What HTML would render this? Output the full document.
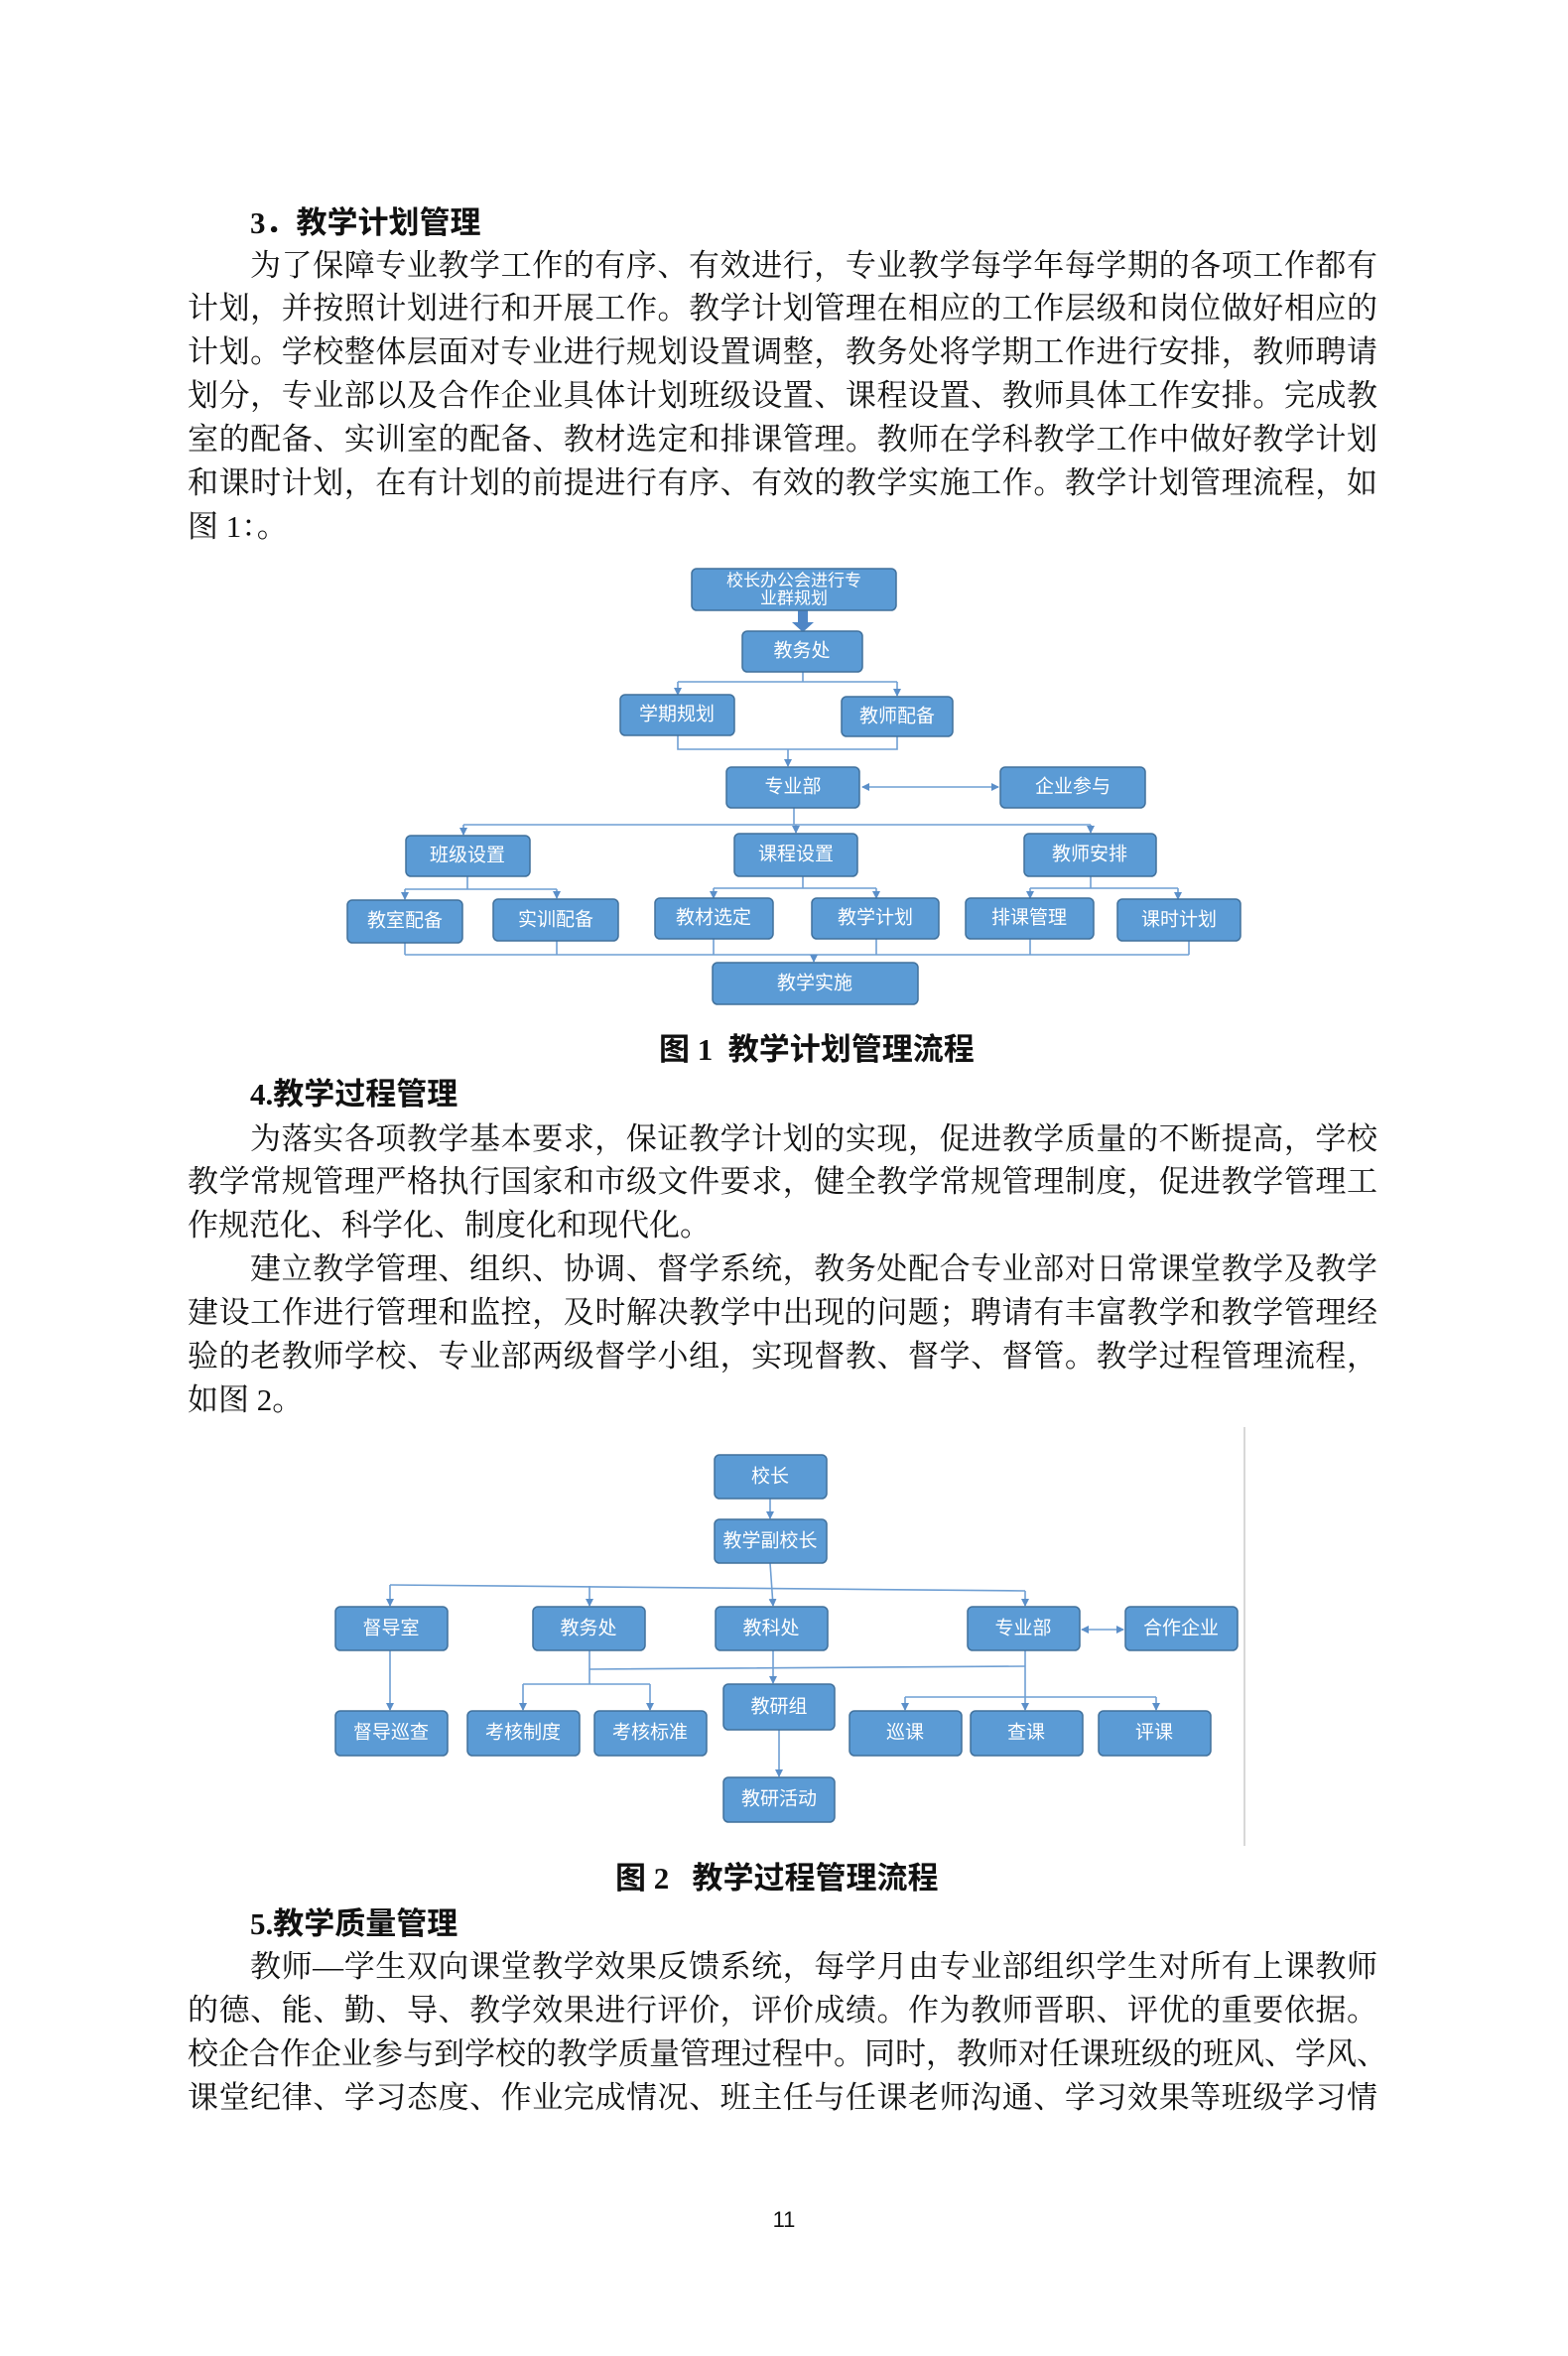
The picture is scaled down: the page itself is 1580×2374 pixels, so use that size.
<!DOCTYPE html>
<html><head><meta charset="utf-8">
<style>
html,body{margin:0;padding:0;background:#fff;}
#pg{position:relative;width:1580px;height:2374px;overflow:hidden;background:#fff;}
.l{position:absolute;height:44px;line-height:44px;font-size:31px;font-family:"Liberation Serif","Noto Serif CJK SC",serif;color:#111;text-align:justify;text-align-last:justify;white-space:nowrap;}
.f{left:189px;width:1199px;}
.i{left:252px;width:1136px;}
.s{text-align-last:left;}
.h{position:absolute;left:252px;height:44px;line-height:44px;font-size:31px;font-weight:bold;font-family:"Liberation Serif","Noto Sans CJK SC",sans-serif;color:#111;}
.c{position:absolute;height:44px;line-height:44px;font-size:31px;font-weight:bold;font-family:"Liberation Serif","Noto Sans CJK SC",sans-serif;color:#111;}
svg{position:absolute;left:0;top:0;}
svg text{font-family:"Liberation Sans","Noto Sans CJK SC",sans-serif;fill:#fff;font-size:19px;text-anchor:middle;dominant-baseline:central;}
</style></head><body><div id="pg">

<div class="h" style="top:203px">3．教学计划管理</div>
<div class="l i" style="top:246px">为了保障专业教学工作的有序、有效进行，专业教学每学年每学期的各项工作都有</div>
<div class="l f" style="top:289px">计划，并按照计划进行和开展工作。教学计划管理在相应的工作层级和岗位做好相应的</div>
<div class="l f" style="top:333px">计划。学校整体层面对专业进行规划设置调整，教务处将学期工作进行安排，教师聘请</div>
<div class="l f" style="top:377px">划分，专业部以及合作企业具体计划班级设置、课程设置、教师具体工作安排。完成教</div>
<div class="l f" style="top:421px">室的配备、实训室的配备、教材选定和排课管理。教师在学科教学工作中做好教学计划</div>
<div class="l f" style="top:465px">和课时计划，在有计划的前提进行有序、有效的教学实施工作。教学计划管理流程，如</div>
<div class="l f s" style="top:509px">图 1：。</div>

<div class="c" style="top:1036px;left:664px">图 1&nbsp; 教学计划管理流程</div>

<div class="h" style="top:1081px">4.教学过程管理</div>
<div class="l i" style="top:1126px">为落实各项教学基本要求，保证教学计划的实现，促进教学质量的不断提高，学校</div>
<div class="l f" style="top:1169px">教学常规管理严格执行国家和市级文件要求，健全教学常规管理制度，促进教学管理工</div>
<div class="l f s" style="top:1213px">作规范化、科学化、制度化和现代化。</div>
<div class="l i" style="top:1257px">建立教学管理、组织、协调、督学系统，教务处配合专业部对日常课堂教学及教学</div>
<div class="l f" style="top:1301px">建设工作进行管理和监控，及时解决教学中出现的问题；聘请有丰富教学和教学管理经</div>
<div class="l f" style="top:1345px">验的老教师学校、专业部两级督学小组，实现督教、督学、督管。教学过程管理流程，</div>
<div class="l f s" style="top:1389px">如图 2。</div>

<div class="c" style="top:1871px;left:620px">图 2&nbsp;&nbsp; 教学过程管理流程</div>

<div class="h" style="top:1917px">5.教学质量管理</div>
<div class="l i" style="top:1960px">教师—学生双向课堂教学效果反馈系统，每学月由专业部组织学生对所有上课教师</div>
<div class="l f" style="top:2004px">的德、能、勤、导、教学效果进行评价，评价成绩。作为教师晋职、评优的重要依据。</div>
<div class="l f" style="top:2048px">校企合作企业参与到学校的教学质量管理过程中。同时，教师对任课班级的班风、学风、</div>
<div class="l f" style="top:2092px">课堂纪律、学习态度、作业完成情况、班主任与任课老师沟通、学习效果等班级学习情</div>

<div style="position:absolute;top:2224px;left:0;width:1580px;text-align:center;font-size:22px;font-family:'Liberation Sans',sans-serif;color:#111">11</div>

<svg width="1580" height="2374" viewBox="0 0 1580 2374">
<defs>
<marker id="a" markerWidth="8" markerHeight="8" refX="7" refY="4" orient="auto" markerUnits="userSpaceOnUse"><path d="M0,0 L8,4 L0,8 z" fill="#5b8fc9"/></marker>
<marker id="b" markerWidth="8" markerHeight="8" refX="1" refY="4" orient="auto" markerUnits="userSpaceOnUse"><path d="M8,0 L0,4 L8,8 z" fill="#5b8fc9"/></marker>
</defs>
<g fill="none" stroke="#6f9fd3" stroke-width="1.6">
<path d="M809,677 V687 M683,687 H904" />
<path d="M683,687 V700" marker-end="url(#a)"/><path d="M904,687 V701" marker-end="url(#a)"/>
<path d="M683,741 V755 H904 V742" />
<path d="M794,755 V772" marker-end="url(#a)"/>
<path d="M869,793 H1006" marker-start="url(#b)" marker-end="url(#a)"/>
<path d="M800,814 V831 M467,831 H1099"/>
<path d="M467,831 V841" marker-end="url(#a)"/><path d="M802,831 V839" marker-end="url(#a)"/><path d="M1099,831 V839" marker-end="url(#a)"/>
<path d="M471,883 V896 M408,896 H561"/>
<path d="M408,896 V906" marker-end="url(#a)"/><path d="M561,896 V905" marker-end="url(#a)"/>
<path d="M809,883 V895 M719,895 H883"/>
<path d="M719,895 V905" marker-end="url(#a)"/><path d="M883,895 V905" marker-end="url(#a)"/>
<path d="M1099,883 V895 M1038,895 H1187"/>
<path d="M1038,895 V905" marker-end="url(#a)"/><path d="M1187,895 V906" marker-end="url(#a)"/>
<path d="M408,950 V962 M561,948 V962 M719,946 V962 M883,946 V962 M1038,946 V962 M1198,948 V962 M408,962 H1198"/>
<path d="M820,962 V969" marker-end="url(#a)"/>
<path d="M776,1510 V1530" marker-end="url(#a)"/>
<path d="M393,1597 L1033,1603"/>
<path d="M393,1597 V1618" marker-end="url(#a)"/>
<path d="M594,1598 V1618" marker-end="url(#a)"/>
<path d="M776,1575 L779,1618" marker-end="url(#a)"/>
<path d="M1033,1603 V1618" marker-end="url(#a)"/>
<path d="M1090,1642 H1132" marker-start="url(#b)" marker-end="url(#a)"/>
<path d="M393,1663 V1723" marker-end="url(#a)"/>
<path d="M594,1663 V1697 M594,1682 L1033,1679 M527,1697 H655"/>
<path d="M527,1697 V1723" marker-end="url(#a)"/><path d="M655,1697 V1723" marker-end="url(#a)"/>
<path d="M779,1663 V1696" marker-end="url(#a)"/>
<path d="M1033,1663 V1723" marker-end="url(#a)"/>
<path d="M912,1710 H1165"/>
<path d="M912,1710 V1723" marker-end="url(#a)"/><path d="M1165,1710 V1723" marker-end="url(#a)"/>
<path d="M785,1743 V1790" marker-end="url(#a)"/>
</g>
<path d="M804,615 V627 H798 L809,637 L820,627 H814 V615 z" fill="#4f86c6"/>
<line x1="1254" y1="1438" x2="1254" y2="1860" stroke="#ccc" stroke-width="1.5"/>

<g fill="#5b9bd5" stroke="#41719c" stroke-width="1.5">
<rect x="697" y="573" width="206" height="42" rx="5"/>
<rect x="748" y="636" width="121" height="41" rx="5"/>
<rect x="625" y="700" width="115" height="41" rx="5"/>
<rect x="848" y="702" width="112" height="40" rx="5"/>
<rect x="732" y="773" width="134" height="41" rx="5"/>
<rect x="1008" y="773" width="146" height="41" rx="5"/>
<rect x="409" y="842" width="125" height="41" rx="5"/>
<rect x="740" y="840" width="124" height="43" rx="5"/>
<rect x="1032" y="840" width="133" height="43" rx="5"/>
<rect x="350" y="907" width="116" height="43" rx="5"/>
<rect x="497" y="906" width="126" height="42" rx="5"/>
<rect x="660" y="905" width="119" height="41" rx="5"/>
<rect x="818" y="905" width="128" height="41" rx="5"/>
<rect x="973" y="905" width="129" height="41" rx="5"/>
<rect x="1126" y="906" width="124" height="42" rx="5"/>
<rect x="718" y="970" width="207" height="42" rx="5"/>
<rect x="720" y="1466" width="113" height="44" rx="5"/>
<rect x="720" y="1531" width="113" height="44" rx="5"/>
<rect x="338" y="1619" width="113" height="44" rx="5"/>
<rect x="537" y="1619" width="113" height="44" rx="5"/>
<rect x="721" y="1619" width="113" height="44" rx="5"/>
<rect x="975" y="1619" width="113" height="44" rx="5"/>
<rect x="1134" y="1619" width="113" height="44" rx="5"/>
<rect x="338" y="1724" width="113" height="45" rx="5"/>
<rect x="471" y="1724" width="113" height="45" rx="5"/>
<rect x="599" y="1724" width="113" height="45" rx="5"/>
<rect x="729" y="1697" width="112" height="46" rx="5"/>
<rect x="856" y="1724" width="113" height="45" rx="5"/>
<rect x="978" y="1724" width="113" height="45" rx="5"/>
<rect x="1107" y="1724" width="113" height="45" rx="5"/>
<rect x="729" y="1791" width="112" height="45" rx="5"/>
</g>
<g>
<text x="800" y="585" style="font-size:17px">校长办公会进行专</text>
<text x="800" y="603" style="font-size:17px">业群规划</text>
<text x="808" y="656">教务处</text>
<text x="682" y="720">学期规划</text>
<text x="904" y="722">教师配备</text>
<text x="799" y="793">专业部</text>
<text x="1081" y="793">企业参与</text>
<text x="471" y="862">班级设置</text>
<text x="802" y="861">课程设置</text>
<text x="1098" y="861">教师安排</text>
<text x="408" y="928">教室配备</text>
<text x="560" y="927">实训配备</text>
<text x="719" y="925">教材选定</text>
<text x="882" y="925">教学计划</text>
<text x="1037" y="925">排课管理</text>
<text x="1188" y="927">课时计划</text>
<text x="821" y="991">教学实施</text>
<text x="776" y="1488">校长</text>
<text x="776" y="1553">教学副校长</text>
<text x="394" y="1641">督导室</text>
<text x="593" y="1641">教务处</text>
<text x="777" y="1641">教科处</text>
<text x="1031" y="1641">专业部</text>
<text x="1190" y="1641">合作企业</text>
<text x="394" y="1746">督导巡查</text>
<text x="527" y="1746">考核制度</text>
<text x="655" y="1746">考核标准</text>
<text x="785" y="1720">教研组</text>
<text x="912" y="1746">巡课</text>
<text x="1034" y="1746">查课</text>
<text x="1163" y="1746">评课</text>
<text x="785" y="1813">教研活动</text>
</g>
</svg>
</div></body></html>
